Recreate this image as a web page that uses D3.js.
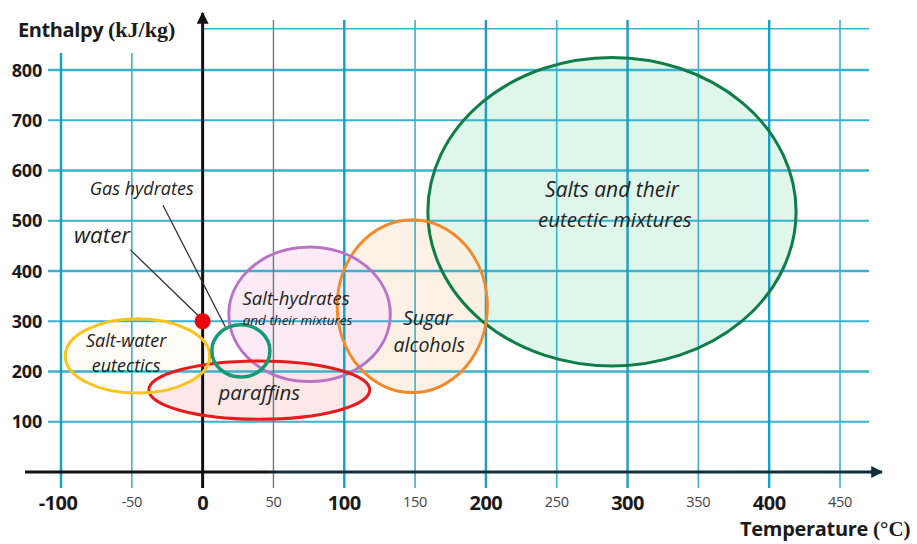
<!DOCTYPE html>
<html>
<head>
<meta charset="utf-8">
<script src="https://cdn.jsdelivr.net/npm/d3@7"></script>
<style>
  html, body { margin: 0; padding: 0; background: #fff; }
  svg { display: block; }
</style>
</head>
<body>
<svg id="chart" width="917" height="544"></svg>
<script>
// Temperature ticks (°C); the hundreds are drawn large and bold
const tempTicks = [-100, -50, 0, 50, 100, 150, 200, 250, 300, 350, 400, 450];
const majorTemps = [-100, 0, 100, 200, 300, 400];
// Enthalpy ticks (kJ/kg); an extra unlabelled grid row sits above 800
const enthalpyTicks = [100, 200, 300, 400, 500, 600, 700, 800];
const topGridRow = 882;

// Material classes: centre temperature, temperature half-width,
// centre enthalpy, enthalpy half-height
const classNames   = ["Salts and their eutectic mixtures", "Sugar alcohols", "Salt-hydrates and their mixtures", "paraffins", "Salt-water eutectics", "Gas hydrates"];
const centreTemp   = [289, 148, 75.5, 40, -46, 27];
const halfTemp     = [130, 53, 57, 78, 51, 20.5];
const centreEnth   = [518, 330, 314, 163, 231, 241];
const halfEnth     = [307, 172, 134, 58, 74, 52];
const strokeColors = ["#0f7d48", "#f5892a", "#b873c4", "#e41c1e", "#fbc31c", "#129b76"];
const fillColors   = ["#d9f5e6", "#fdeee2", "#fbe6f4", "#fde3e3", "#fffcf4", "none"];

// Water: a single melting point
const waterTemp = 0;
const waterEnth = 300;

const svg = d3.select("#chart");
const x = d3.scaleLinear().domain([-100, 450]).range([61, 840]);
const y = d3.scaleLinear().domain([0, 800]).range([472, 70]);

const gridColor = "#3ab2cd";
const gridStrong = "#169fc0";

// ---- ellipse fills (under the grid) ----
const fills = svg.append("g");
classNames.forEach((name, i) => {
  if (fillColors[i] === "none") return;
  fills.append("ellipse")
    .attr("cx", x(centreTemp[i]))
    .attr("cy", y(centreEnth[i]))
    .attr("rx", x(centreTemp[i] + halfTemp[i]) - x(centreTemp[i]))
    .attr("ry", y(centreEnth[i]) - y(centreEnth[i] + halfEnth[i]))
    .attr("fill", fillColors[i])
    .attr("fill-opacity", 0.85);
});

// ---- grid ----
const grid = svg.append("g");
enthalpyTicks.forEach(v => {
  grid.append("line")
    .attr("x1", 48).attr("x2", 869)
    .attr("y1", y(v)).attr("y2", y(v))
    .attr("stroke", gridColor)
    .attr("stroke-width", v % 200 === 0 ? 2.4 : 1.8);
});
grid.append("line")
  .attr("x1", x(0)).attr("x2", 869)
  .attr("y1", y(topGridRow)).attr("y2", y(topGridRow))
  .attr("stroke", gridColor).attr("stroke-width", 1.6);

tempTicks.forEach(t => {
  if (t === 0) return;
  const major = majorTemps.includes(t);
  const top = t < 0 ? 53 : 20;
  grid.append("line")
    .attr("x1", x(t)).attr("x2", x(t))
    .attr("y1", top).attr("y2", 488)
    .attr("stroke", t === 50 ? "#6f7a80" : (major ? gridStrong : gridColor))
    .attr("stroke-width", t === 50 ? 1.4 : (major ? 2.4 : 1.6));
});

// ---- axes ----
const defs = svg.append("defs");
defs.append("marker")
  .attr("id", "arrowBlack")
  .attr("viewBox", "0 0 10 10")
  .attr("refX", 9).attr("refY", 5)
  .attr("markerWidth", 4).attr("markerHeight", 4)
  .attr("orient", "auto")
  .append("path").attr("d", "M0,0 L10,5 L0,10 Z").attr("fill", "#111");
defs.append("marker")
  .attr("id", "arrowDark")
  .attr("viewBox", "0 0 10 10")
  .attr("refX", 9).attr("refY", 5)
  .attr("markerWidth", 4).attr("markerHeight", 4)
  .attr("orient", "auto")
  .append("path").attr("d", "M0,0 L10,5 L0,10 Z").attr("fill", "#0f2f3a");

const axisGrad = defs.append("linearGradient")
  .attr("id", "xAxisGrad").attr("gradientUnits", "userSpaceOnUse")
  .attr("x1", 25).attr("x2", 882).attr("y1", 0).attr("y2", 0);
axisGrad.append("stop").attr("offset", "0.28").attr("stop-color", "#111");
axisGrad.append("stop").attr("offset", "0.30").attr("stop-color", "#12313b");
axisGrad.append("stop").attr("offset", "1").attr("stop-color", "#0f2f3a");

svg.append("line")
  .attr("x1", 25).attr("x2", 882)
  .attr("y1", y(0)).attr("y2", y(0))
  .attr("stroke", "url(#xAxisGrad)").attr("stroke-width", 3)
  .attr("marker-end", "url(#arrowDark)");

svg.append("line")
  .attr("x1", x(0)).attr("x2", x(0))
  .attr("y1", 488).attr("y2", 13)
  .attr("stroke", "#111").attr("stroke-width", 3)
  .attr("marker-end", "url(#arrowBlack)");

// tick labels
const sans = "'Open Sans', 'Noto Sans', sans-serif";
const xLabels = svg.append("g");
tempTicks.forEach(t => {
  const major = majorTemps.includes(t);
  xLabels.append("text")
    .attr("x", x(t) + (t === -100 ? -3 : 0))
    .attr("y", major ? 510 : 507)
    .attr("text-anchor", "middle")
    .attr("font-family", sans)
    .attr("font-weight", major ? 700 : 400)
    .attr("font-size", major ? 20 : 14.5)
    .attr("fill", major ? "#1a1a1a" : "#444")
    .attr("letter-spacing", major ? -0.5 : -0.3)
    .text(t);
});

const yLabels = svg.append("g");
enthalpyTicks.forEach(v => {
  yLabels.append("text")
    .attr("x", 42).attr("y", y(v) + 6.5)
    .attr("text-anchor", "end")
    .attr("font-family", sans)
    .attr("font-weight", 700)
    .attr("font-size", 18)
    .attr("fill", "#1a1a1a")
    .attr("letter-spacing", -0.2)
    .text(v);
});

// axis titles
const yTitle = svg.append("text")
  .attr("x", 18).attr("y", 37)
  .attr("font-weight", 700).attr("fill", "#1a1a1a");
yTitle.append("tspan").attr("font-family", sans).attr("font-size", 20).attr("letter-spacing", -0.4).text("Enthalpy ");
yTitle.append("tspan").attr("font-family", "'Liberation Serif', serif").attr("font-size", 22).text("(kJ/kg)");

const xTitle = svg.append("text")
  .attr("x", 740).attr("y", 536)
  .attr("font-weight", 700).attr("fill", "#1a1a1a");
xTitle.append("tspan").attr("font-family", sans).attr("font-size", 20).attr("letter-spacing", -0.3).text("Temperature ");
xTitle.append("tspan").attr("font-family", "'Liberation Serif', serif").attr("font-size", 21).text("(°C)");

// ---- ellipse outlines ----
const outlines = svg.append("g");
classNames.forEach((name, i) => {
  outlines.append("ellipse")
    .attr("cx", x(centreTemp[i]))
    .attr("cy", y(centreEnth[i]))
    .attr("rx", x(centreTemp[i] + halfTemp[i]) - x(centreTemp[i]))
    .attr("ry", y(centreEnth[i]) - y(centreEnth[i] + halfEnth[i]))
    .attr("fill", "none")
    .attr("stroke", strokeColors[i])
    .attr("stroke-width", i === 5 ? 3.5 : 3);
});

// ---- water point and leader lines ----
const leaders = [
  { from: [-51, 442], to: [-3, 311] },   // water
  { from: [-28, 531], to: [16, 289] }    // gas hydrates
];
leaders.forEach(l => {
  svg.append("line")
    .attr("x1", x(l.from[0])).attr("y1", y(l.from[1]))
    .attr("x2", x(l.to[0])).attr("y2", y(l.to[1]))
    .attr("stroke", "#333").attr("stroke-width", 1.3);
});

svg.append("circle")
  .attr("cx", x(waterTemp)).attr("cy", y(waterEnth))
  .attr("r", 8).attr("fill", "#e8060c");

// ---- class labels ----
const italic = "'Open Sans', 'Noto Sans', sans-serif";
const labelLines = [
  { t: 289, h: 547, size: 21, text: "Salts and their" },
  { t: 291, h: 488, size: 20.5, text: "eutectic mixtures" },
  { t: 159, h: 293, size: 19.5, text: "Sugar" },
  { t: 160, h: 239, size: 19.5, text: "alcohols" },
  { t: 66, h: 332, size: 18.5, text: "Salt-hydrates" },
  { t: 67, h: 292, size: 13.5, text: "and their mixtures" },
  { t: -54, h: 249, size: 18, text: "Salt-water" },
  { t: -54, h: 199, size: 18, text: "eutectics" },
  { t: 40, h: 143, size: 20.5, text: "paraffins" },
  { t: -71, h: 456, size: 22.5, text: "water" },
  { t: -43, h: 551, size: 18, text: "Gas hydrates" }
];
const labels = svg.append("g");
labelLines.forEach(d => {
  labels.append("text")
    .attr("x", x(d.t)).attr("y", y(d.h))
    .attr("text-anchor", "middle")
    .attr("font-family", italic)
    .attr("font-style", "italic")
    .attr("font-size", d.size)
    .attr("fill", "#222")
    .text(d.text);
});
</script>
</body>
</html>
